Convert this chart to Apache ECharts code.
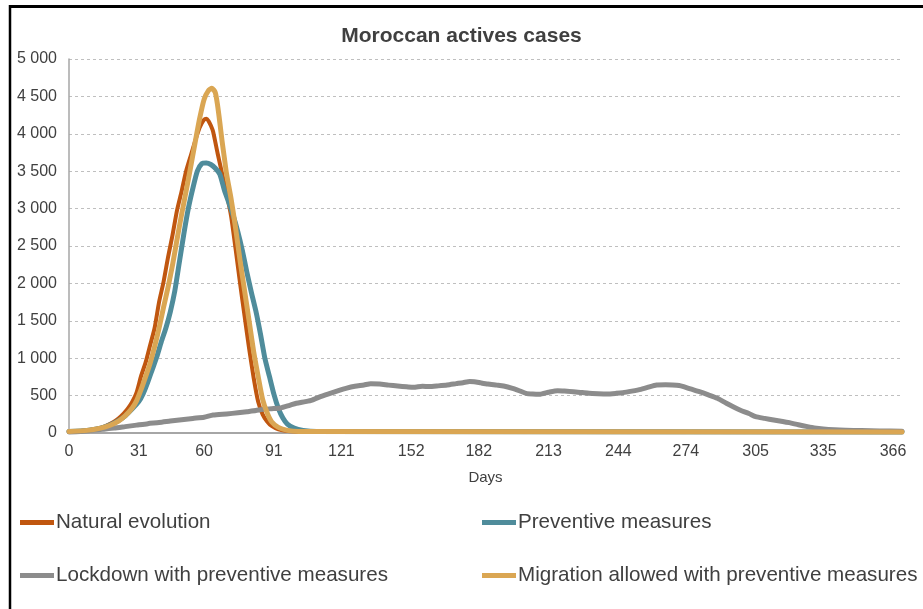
<!DOCTYPE html>
<html>
<head>
<meta charset="utf-8">
<script src="https://cdn.jsdelivr.net/npm/echarts@6/dist/echarts.min.js"></script>
<style>
  html, body { margin: 0; padding: 0; background: #ffffff; }
  #chart { width: 923px; height: 609px; }
</style>
</head>
<body>
<div id="chart"></div>
<script>
// Day labels along the x axis (month boundaries of a leap year)
const dayTicks = [0, 31, 60, 91, 121, 152, 182, 213, 244, 274, 305, 335, 366];

const seriesNames = [
  'Natural evolution',
  'Preventive measures',
  'Lockdown with preventive measures',
  'Migration allowed with preventive measures'
];

// Natural evolution
const naturalDays = [0, 6, 12, 16, 20, 23, 26, 28, 30, 32, 34, 36, 38, 40, 42, 44, 46, 48, 50, 52, 54, 56, 58, 60, 61, 62, 63, 64, 66, 68, 70, 72, 74, 76, 78, 80, 82, 84, 86, 88, 90, 93, 97, 105, 370];
const naturalCases = [20, 30, 55, 90, 150, 220, 320, 410, 540, 760, 940, 1170, 1400, 1750, 2020, 2350, 2650, 2980, 3230, 3500, 3700, 3900, 4080, 4190, 4200, 4170, 4110, 4030, 3740, 3470, 3200, 2900, 2460, 2000, 1560, 1130, 740, 420, 250, 155, 95, 50, 28, 18, 15];

// Preventive measures
const preventiveDays = [0, 8, 14, 18, 22, 25, 28, 31, 33, 35, 37, 39, 41, 43, 45, 47, 49, 51, 53, 55, 57, 59, 61, 63, 65, 67, 69, 71, 73, 75, 77, 79, 81, 83, 85, 87, 89, 91, 93, 95, 97, 100, 104, 110, 370];
const preventiveCases = [20, 35, 65, 105, 165, 230, 320, 420, 530, 680, 850, 1020, 1220, 1400, 1620, 1900, 2280, 2660, 3000, 3270, 3500, 3600, 3610, 3590, 3540, 3460, 3250, 3080, 2900, 2690, 2440, 2150, 1880, 1630, 1330, 1000, 760, 520, 330, 200, 120, 65, 35, 20, 15];

// Lockdown with preventive measures
const lockdownDays = [0, 5, 10, 15, 20, 25, 30, 35, 40, 45, 49, 55, 60, 64, 70, 75, 79, 83, 86, 90, 94, 98, 101, 105, 108, 112, 116, 120, 123, 127, 131, 134, 138, 142, 146, 150, 153, 157, 160, 164, 168, 172, 175, 178, 180, 183, 186, 190, 193, 197, 200, 203, 206, 209, 213, 217, 220, 224, 228, 231, 235, 239, 243, 246, 250, 254, 257, 261, 265, 268, 271, 273, 276, 280, 284, 288, 292, 295, 298, 302, 305, 309, 313, 317, 320, 324, 328, 331, 335, 340, 345, 352, 360, 370];
const lockdownCases = [15, 20, 35, 50, 65, 85, 105, 125, 140, 160, 175, 195, 210, 240, 255, 270, 285, 300, 316, 325, 335, 370, 397, 420, 441, 490, 530, 570, 597, 625, 642, 660, 655, 640, 628, 618, 611, 625, 620, 630, 642, 660, 673, 690, 686, 670, 655, 640, 628, 597, 565, 530, 520, 517, 545, 566, 560, 553, 540, 530, 525, 522, 530, 539, 560, 584, 610, 642, 645, 642, 635, 619, 590, 553, 510, 464, 397, 350, 307, 260, 218, 195, 174, 155, 138, 110, 85, 68, 53, 42, 36, 32, 28, 25];

// Migration allowed with preventive measures
const migrationDays = [0, 8, 14, 18, 22, 25, 28, 30, 32, 34, 36, 38, 40, 42, 44, 46, 48, 50, 52, 54, 56, 58, 60, 62, 63.5, 65, 66, 67, 68, 69, 70, 72, 74, 76, 78, 80, 82, 84, 86, 88, 90, 93, 97, 102, 370];
const migrationCases = [20, 35, 65, 100, 160, 230, 330, 430, 580, 750, 930, 1150, 1400, 1680, 1950, 2250, 2590, 2920, 3230, 3550, 3880, 4200, 4460, 4580, 4610, 4550, 4380, 4150, 3900, 3680, 3460, 3130, 2740, 2300, 1900, 1500, 1090, 760, 450, 270, 150, 75, 35, 20, 15];

const seriesColors = ['#C0560F', '#4F8C9B', '#8C8C8C', '#DAA653'];
const lineWidths = [4, 5, 5, 5];

const pairs = (xs, ys) => xs.map((x, i) => [x, ys[i]]);
const seriesData = [
  pairs(naturalDays, naturalCases),
  pairs(preventiveDays, preventiveCases),
  pairs(lockdownDays, lockdownCases),
  pairs(migrationDays, migrationCases)
];

const textColor = '#404040';
const fontFamily = '"Liberation Sans", Arial, sans-serif';

const fmtThousands = v => String(v).replace(/\B(?=(\d{3})+(?!\d))/g, ' ');

const legendSlots = [
  { left: 20, top: 512 },
  { left: 482, top: 512 },
  { left: 20, top: 565 },
  { left: 482, top: 565 }
];

const chart = echarts.init(document.getElementById('chart'), null, { renderer: 'canvas' });

chart.setOption({
  animation: false,
  backgroundColor: '#ffffff',
  title: {
    text: 'Moroccan actives cases',
    left: 'center',
    top: 21,
    textStyle: { fontFamily, fontSize: 21, fontWeight: 'bold', color: textColor }
  },
  legend: seriesNames.map((name, i) => ({
    data: [name],
    left: legendSlots[i].left,
    top: legendSlots[i].top,
    padding: 0,
    icon: 'rect',
    itemWidth: 34,
    itemHeight: 5,
    selectedMode: false,
    textStyle: { fontFamily, fontSize: 20.6, color: textColor, padding: [0, 0, 0, -3] }
  })),
  grid: { left: 69, right: 21, top: 59, bottom: 176, containLabel: false },
  xAxis: {
    type: 'value',
    min: 0,
    max: 370,
    name: 'Days',
    nameLocation: 'middle',
    nameGap: 37,
    nameTextStyle: { fontFamily, fontSize: 15, color: textColor },
    axisLine: { show: true, lineStyle: { color: '#A6A6A6', width: 2 } },
    axisTick: { show: false },
    splitLine: { show: false },
    axisLabel: {
      customValues: dayTicks,
      fontFamily, fontSize: 16, color: textColor, margin: 11
    }
  },
  yAxis: {
    type: 'value',
    min: 0,
    max: 5000,
    interval: 500,
    axisLine: { show: true, lineStyle: { color: '#A6A6A6', width: 1.5 } },
    axisTick: { show: false },
    splitLine: { show: true, lineStyle: { color: '#BFBFBF', width: 1, type: [3, 3] } },
    axisLabel: {
      fontFamily, fontSize: 16, color: textColor, margin: 12,
      formatter: fmtThousands
    }
  },
  graphic: [
    { type: 'line', shape: { x1: 10, y1: 6.5, x2: 923, y2: 6.5 }, style: { stroke: '#000000', lineWidth: 3 } },
    { type: 'line', shape: { x1: 10, y1: 5, x2: 10, y2: 609 }, style: { stroke: '#000000', lineWidth: 2.5 } }
  ],
  series: seriesNames.map((name, i) => ({
    name,
    type: 'line',
    data: seriesData[i],
    showSymbol: false,
    symbol: 'none',
    smooth: 0.2,
    z: 2 + i,
    lineStyle: { color: seriesColors[i], width: lineWidths[i], cap: 'round', join: 'round' },
    itemStyle: { color: seriesColors[i] }
  }))
});
</script>
</body>
</html>
